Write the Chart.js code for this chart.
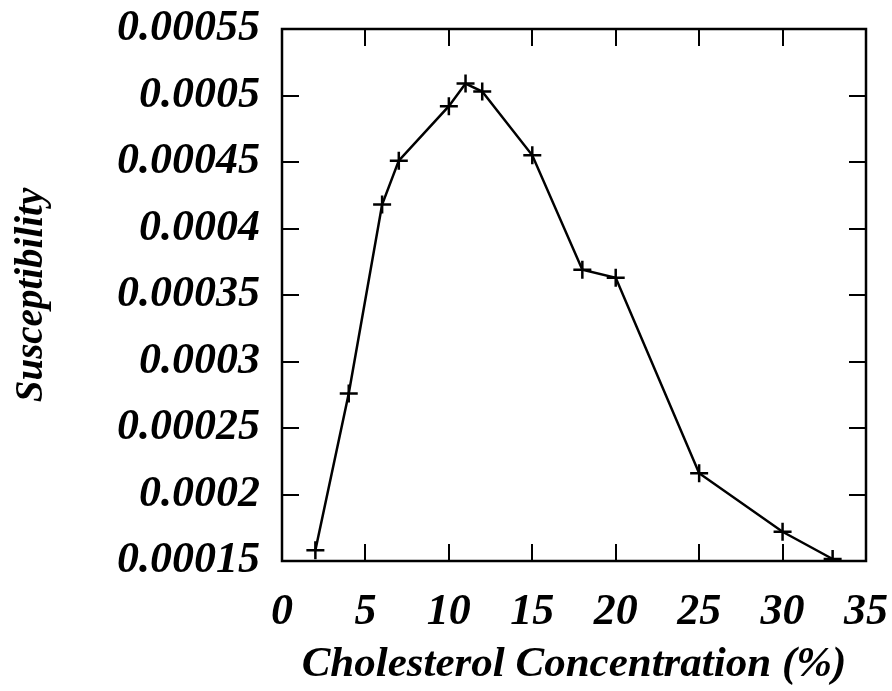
<!DOCTYPE html>
<html>
<head>
<meta charset="utf-8">
<script src="https://cdn.jsdelivr.net/npm/chart.js@4/dist/chart.umd.min.js"></script>
<style>
  html, body { margin:0; padding:0; background:#fff; }
  #wrap { width:892px; height:691px; }
</style>
</head>
<body>
<div id="wrap"><canvas id="c" width="892" height="691"></canvas></div>
<script>
/* ── data ─────────────────────────────────────────── */
const concentration = [2, 4, 6, 7, 10, 11, 12, 15, 18, 20, 25, 30, 33];
const susceptibility = [0.000158, 0.000276, 0.000418, 0.000451, 0.000492, 0.000509, 0.000503,
                        0.000455, 0.000369, 0.000363, 0.000216, 0.000172, 0.0001515];
const xTicks = [0, 5, 10, 15, 20, 25, 30, 35];
const yTicks = [0.00015, 0.0002, 0.00025, 0.0003, 0.00035, 0.0004, 0.00045, 0.0005, 0.00055];

const FONT = 'Liberation Serif, Times New Roman, serif';
const TICK_LEN = 17;

/* gnuplot-style frame with inward ticks on all four sides */
const framePlugin = {
  id: 'frame',
  afterDatasetsDraw(chart) {
    const { ctx, chartArea: a, scales: { x, y } } = chart;
    ctx.save();
    ctx.strokeStyle = '#000';
    ctx.lineWidth = 2;
    ctx.beginPath();
    xTicks.forEach(v => {
      const px = Math.round(x.getPixelForValue(v));
      ctx.moveTo(px, a.bottom); ctx.lineTo(px, a.bottom - TICK_LEN);
      ctx.moveTo(px, a.top);    ctx.lineTo(px, a.top + TICK_LEN);
    });
    yTicks.forEach(v => {
      const py = Math.round(y.getPixelForValue(v));
      ctx.moveTo(a.left, py);  ctx.lineTo(a.left + TICK_LEN, py);
      ctx.moveTo(a.right, py); ctx.lineTo(a.right - TICK_LEN, py);
    });
    ctx.stroke();
    ctx.lineWidth = 2.5;
    ctx.strokeRect(a.left, a.top, a.right - a.left, a.bottom - a.top);
    ctx.restore();
  }
};

const labelFont = { family: FONT, size: 44, weight: 'bold', style: 'italic' };

new Chart(document.getElementById('c'), {
  type: 'line',
  data: {
    datasets: [{
      data: concentration.map((c, i) => ({ x: c, y: susceptibility[i] })),
      borderColor: '#000',
      borderWidth: 2.5,
      pointStyle: 'cross',
      pointRadius: 9,
      pointBorderWidth: 2.5,
      pointBorderColor: '#000',
      tension: 0,
      fill: false
    }]
  },
  options: {
    responsive: false,
    animation: false,
    layout: { padding: { top: 29, right: 26, left: 0, bottom: 0 } },
    plugins: { legend: { display: false }, tooltip: { enabled: false } },
    scales: {
      x: {
        type: 'linear', min: 0, max: 35,
        afterFit: s => { s.height = 130; s.paddingLeft = 0; s.paddingRight = 0; },
        afterBuildTicks: s => { s.ticks = xTicks.map(v => ({ value: v })); },
        grid: { display: false, drawTicks: false },
        border: { display: false },
        ticks: { color: '#000', padding: 25, font: labelFont },
        title: {
          display: true, text: 'Cholesterol Concentration (%)', color: '#000',
          padding: { top: 0, bottom: 0 },
          font: { family: FONT, size: 43, weight: 'bold', style: 'italic' }
        }
      },
      y: {
        type: 'linear', min: 0.00015, max: 0.00055,
        afterFit: s => { s.width = 282; s.paddingTop = 0; s.paddingBottom = 0; },
        afterBuildTicks: s => { s.ticks = yTicks.map(v => ({ value: v })); },
        grid: { display: false, drawTicks: false },
        border: { display: false },
        ticks: {
          color: '#000', padding: 22, font: labelFont,
          callback: v => String(parseFloat(Number(v).toFixed(6)))
        },
        title: {
          display: true, text: 'Susceptibility', color: '#000',
          padding: { top: 9, bottom: 0 },
          font: { family: FONT, size: 39, weight: 'bold', style: 'italic' }
        }
      }
    }
  },
  plugins: [framePlugin]
});
</script>
</body>
</html>
